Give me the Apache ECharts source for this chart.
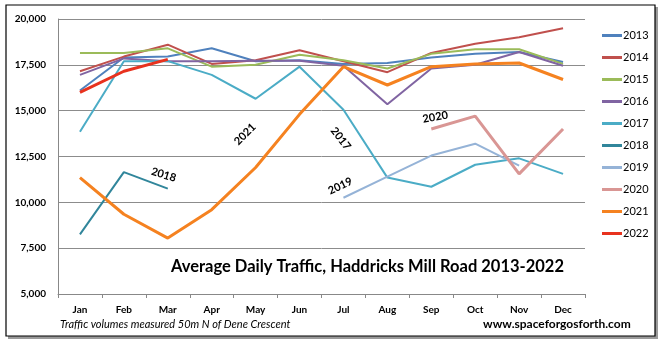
<!DOCTYPE html>
<html>
<head>
<meta charset="utf-8">
<script src="https://cdn.jsdelivr.net/npm/echarts@6/dist/echarts.min.js"></script>
<style>
  html, body { margin: 0; padding: 0; background: #fff; }
  #chart { width: 661px; height: 345px; }
</style>
</head>
<body>
<div id="chart"></div>
<script>
// monthly average daily traffic
const months = ['Jan', 'Feb', 'Mar', 'Apr', 'May', 'Jun', 'Jul', 'Aug', 'Sep', 'Oct', 'Nov', 'Dec'];
const y2013 = [16100, 17900, 17950, 18400, 17700, 17750, 17550, 17600, 17900, 18100, 18200, 17650];
const y2014 = [17150, 17950, 18600, 17550, 17750, 18300, 17700, 17100, 18150, 18650, 19000, 19500];
const y2015 = [18150, 18150, 18400, 17400, 17500, 18050, 17750, 17300, 18100, 18350, 18350, 17550];
const y2016 = [16950, 17850, 17700, 17700, 17720, 17720, 17450, 15350, 17300, 17500, 18200, 17450];
const y2017 = [13850, 17700, 17700, 16950, 15650, 17400, 15050, 11350, 10850, 12050, 12400, 11550];
const y2018 = [8250, 11650, 10750, null, null, null, null, null, null, null, null, null];
const y2019 = [null, null, null, null, null, null, 10250, 11400, 12550, 13200, 12000, null];
const y2020 = [null, null, null, null, null, null, null, null, 14000, 14700, 11550, 14000];
const y2021 = [11350, 9350, 8050, 9600, 11900, 14800, 17400, 16400, 17400, 17550, 17600, 16700];
const y2022 = [16000, 17150, 17800, null, null, null, null, null, null, null, null, null];

const years = ['2013', '2014', '2015', '2016', '2017', '2018', '2019', '2020', '2021', '2022'];
const values = [y2013, y2014, y2015, y2016, y2017, y2018, y2019, y2020, y2021, y2022];
const colors = ['#4F81BD', '#C0504D', '#9BBB59', '#8064A2', '#4BACC6', '#31869B', '#95B3D7', '#D99694', '#F58220', '#E8321E'];
const widths = [2, 2, 2, 2, 2, 2, 2, 3, 3, 3];

// in-plot year tags: [series index, anchor month, anchor value, offset, rotate]
const tags = [
  [5, 'Mar', 10750, [-8, -12], -17],
  [8, 'May', 11900, [16, -31], 45],
  [4, 'Jul', 15050, [21, 20], -52],
  [7, 'Sep', 14000, [6, -11], 10],
  [6, 'Jul', 10250, [2, -12], 25]
];

const font = 'Lato, "Open Sans", sans-serif';

const series = years.map((y, i) => {
  const s = {
    name: y,
    type: 'line',
    data: values[i],
    showSymbol: false,
    symbol: 'none',
    connectNulls: false,
    z: i === 8 || i === 9 ? 5 : 3,
    lineStyle: { color: colors[i], width: widths[i] },
    itemStyle: { color: colors[i] }
  };
  const t = tags.filter(d => d[0] === i);
  if (t.length) {
    s.markPoint = {
      symbol: 'circle',
      symbolSize: 0,
      silent: true,
      data: t.map(d => ({
        coord: [d[1], d[2]],
        label: {
          show: true,
          formatter: y,
          offset: d[3],
          rotate: d[4],
          color: '#000',
          fontFamily: font,
          fontWeight: 'bold',
          fontSize: 11
        }
      }))
    };
  }
  return s;
});

const chart = echarts.init(document.getElementById('chart'));
chart.setOption({
  animation: false,
  backgroundColor: '#fff',
  color: colors,
  grid: { left: 58, right: 76, top: 19, bottom: 51 },
  legend: {
    orient: 'vertical',
    left: 597,
    top: 25,
    itemWidth: 20,
    itemHeight: 3,
    itemGap: 11,
    icon: 'rect',
    textStyle: { fontFamily: font, fontSize: 11, color: '#000', padding: [0, 0, 0, -4] },
    data: years
  },
  xAxis: {
    type: 'category',
    data: months,
    boundaryGap: true,
    axisLine: { lineStyle: { color: '#888', width: 1 } },
    axisTick: { show: true, length: 4, lineStyle: { color: '#888' } },
    axisLabel: { fontFamily: font, fontWeight: 'bold', fontSize: 10, color: '#000', margin: 11 }
  },
  yAxis: {
    type: 'value',
    min: 5000,
    max: 20000,
    interval: 2500,
    axisLine: { show: true, lineStyle: { color: '#888', width: 1 } },
    axisTick: { show: false },
    splitLine: { lineStyle: { color: '#8c8c8c', width: 1 } },
    axisLabel: {
      fontFamily: font, fontWeight: 'bold', fontSize: 10, color: '#000', margin: 12,
      formatter: v => v.toLocaleString('en-US')
    }
  },
  graphic: [
    {
      type: 'rect', z: -1, silent: true,
      shape: { x: 8, y: 7, width: 650, height: 332 },
      style: { fill: '#9a9a9a' }
    },
    {
      type: 'rect', z: 0, silent: true,
      shape: { x: 6, y: 5, width: 649, height: 331 },
      style: { fill: '#fff', stroke: '#000', lineWidth: 1.2 }
    },
    {
      type: 'text', left: 171, top: 258, z: 10,
      style: { text: 'Average Daily Traffic, Haddricks Mill Road 2013-2022', fontFamily: font, fontWeight: 'bold', fontSize: 16.5, fill: '#000' }
    },
    {
      type: 'text', left: 60, top: 319, z: 10,
      style: { text: 'Traffic volumes measured 50m N of Dene Crescent', fontFamily: font, fontStyle: 'italic', fontSize: 11, fill: '#000' }
    },
    {
      type: 'text', left: 483, top: 318, z: 10,
      style: { text: 'www.spaceforgosforth.com', fontFamily: font, fontWeight: 'bold', fontSize: 12, fill: '#000' }
    }
  ],
  series: series
});
</script>
</body>
</html>
